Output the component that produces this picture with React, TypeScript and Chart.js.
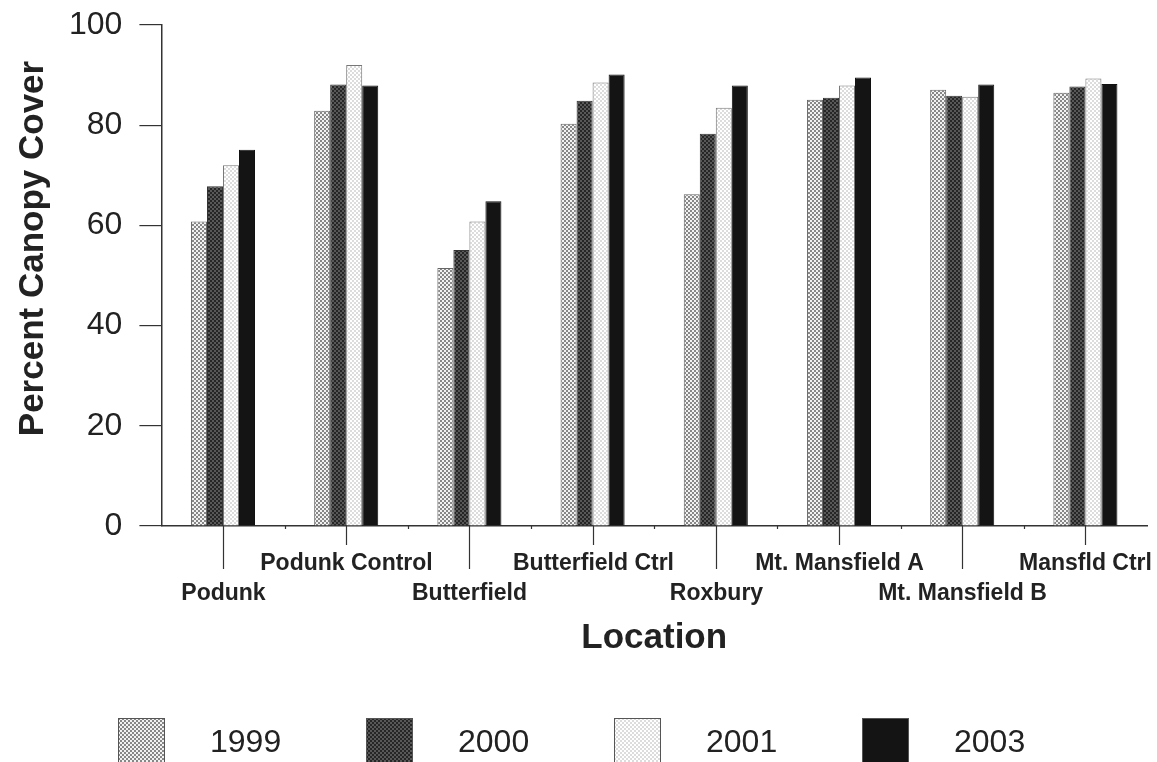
import React, { useEffect, useRef } from "react";
import { Chart, registerables } from "chart.js";

Chart.register(...registerables);

const categories = [
  "Podunk",
  "Podunk Control",
  "Butterfield",
  "Butterfield Ctrl",
  "Roxbury",
  "Mt. Mansfield A",
  "Mt. Mansfield B",
  "Mansfld Ctrl",
];
const years = ["1999", "2000", "2001", "2003"];
const values1999 = [60.8, 82.9, 51.5, 80.3, 66.2, 85.1, 87.1, 86.5];
const values2000 = [67.8, 88.1, 55.1, 84.9, 78.3, 85.5, 85.9, 87.7];
const values2001 = [72.0, 92.0, 60.8, 88.5, 83.5, 87.9, 85.7, 89.3];
const values2003 = [75.1, 87.9, 64.8, 90.1, 87.9, 89.5, 88.1, 88.2];
const yTicks = [0, 20, 40, 60, 80, 100];
const yTitle = "Percent Canopy Cover";
const xTitle = "Location";

const FONT = '"Liberation Sans", Arial, Helvetica, sans-serif';
const TEXT = "#222222";

function makePattern(bg: string, dot: string, r: number): CanvasPattern | string {
  const c = document.createElement("canvas");
  c.width = 4;
  c.height = 4;
  const g = c.getContext("2d");
  if (!g) return bg;
  g.fillStyle = bg;
  g.fillRect(0, 0, 4, 4);
  g.fillStyle = dot;
  for (const [cx, cy] of [[1, 1], [3, 3]]) {
    g.beginPath();
    g.arc(cx, cy, r, 0, Math.PI * 2);
    g.fill();
  }
  const p = g.createPattern(c, "repeat");
  return p || bg;
}

const overlayPlugin = {
  id: "overlay",
  afterDraw(chart: any) {
    const ctx = chart.ctx as CanvasRenderingContext2D;
    const x = chart.scales.x;
    const area = chart.chartArea;
    const axisY = area.bottom;
    ctx.save();
    ctx.strokeStyle = "#333";
    ctx.lineWidth = 1.2;
    ctx.fillStyle = TEXT;
    ctx.textAlign = "center";
    ctx.textBaseline = "alphabetic";
    ctx.font = `bold 23px ${FONT}`;
    categories.forEach((c, i) => {
      const px = Math.round(x.getPixelForValue(i)) + 0.5;
      const long = i % 2 === 0;
      ctx.beginPath();
      ctx.moveTo(px, axisY);
      ctx.lineTo(px, axisY + (long ? 43 : 19));
      ctx.stroke();
      ctx.fillText(c, px, axisY + (long ? 74 : 44));
    });
    for (let i = 0; i < categories.length - 1; i++) {
      const px = Math.round((x.getPixelForValue(i) + x.getPixelForValue(i + 1)) / 2) + 0.5;
      ctx.beginPath();
      ctx.moveTo(px, axisY);
      ctx.lineTo(px, axisY + 3);
      ctx.stroke();
    }
    // x title
    ctx.font = `bold 35px ${FONT}`;
    ctx.fillText(xTitle, (area.left + area.right) / 2, axisY + 122);
    // y title
    ctx.save();
    ctx.translate(43, 248.5);
    ctx.rotate(-Math.PI / 2);
    ctx.fillText(yTitle, 0, 0);
    ctx.restore();
    // legend
    ctx.font = `32px ${FONT}`;
    ctx.textAlign = "left";
    chart.data.datasets.forEach((ds: any, k: number) => {
      const bx = 118 + k * 248;
      const by = 718;
      ctx.fillStyle = ds.backgroundColor;
      ctx.fillRect(bx, by, 47, 46);
      ctx.strokeStyle = "#555";
      ctx.lineWidth = 1;
      ctx.strokeRect(bx + 0.5, by + 0.5, 46, 46);
      ctx.fillStyle = TEXT;
      ctx.fillText(ds.label, bx + 92, 752);
    });
    ctx.restore();
  },
};

export default function App() {
  const ref = useRef<HTMLCanvasElement | null>(null);
  useEffect(() => {
    if (!ref.current) return;
    const p1999 = makePattern("#f2f2f2", "#5a5a5a", 0.95);
    const p2000 = makePattern("#262626", "#9a9a9a", 0.8);
    const p2001 = makePattern("#ffffff", "#a8a8a8", 0.75);
    const p2003 = "#141414";
    const chart = new Chart(ref.current, {
      type: "bar",
      data: {
        labels: categories,
        datasets: [
          { label: years[0], data: values1999, backgroundColor: p1999 as any, borderColor: "#666", borderWidth: 1 },
          { label: years[1], data: values2000, backgroundColor: p2000 as any, borderColor: "#333", borderWidth: 1 },
          { label: years[2], data: values2001, backgroundColor: p2001 as any, borderColor: "#777", borderWidth: 1 },
          { label: years[3], data: values2003, backgroundColor: p2003, borderColor: "#111", borderWidth: 1 },
        ],
      },
      options: {
        responsive: false,
        animation: false,
        devicePixelRatio: 1,
        layout: { padding: { left: 52, right: 10, top: 24, bottom: 236 } },
        plugins: { legend: { display: false }, tooltip: { enabled: false } },
        datasets: { bar: { barPercentage: 1, categoryPercentage: 0.52 } },
        scales: {
          x: {
            grid: { display: false, drawTicks: false },
            border: { display: true, color: "#333", width: 1.5 },
            ticks: { display: false },
          },
          y: {
            min: 0,
            max: 100,
            afterBuildTicks: (scale: any) => {
              scale.ticks = yTicks.map((v) => ({ value: v }));
            },
            grid: { drawOnChartArea: false, drawTicks: true, tickLength: 22, color: "#333", lineWidth: 1.2 },
            border: { display: true, color: "#333", width: 1.5 },
            ticks: {
              padding: 17,
              color: TEXT,
              font: { family: FONT, size: 32, lineHeight: 0.5 },
            },
          },
        },
      },
      plugins: [overlayPlugin],
    });
    return () => chart.destroy();
  }, []);
  return (
    <div style={{ position: "fixed", left: 0, top: 0, width: 1157, height: 762, background: "#fff" }}>
      <canvas ref={ref} width={1157} height={762} style={{ display: "block" }} />
    </div>
  );
}
